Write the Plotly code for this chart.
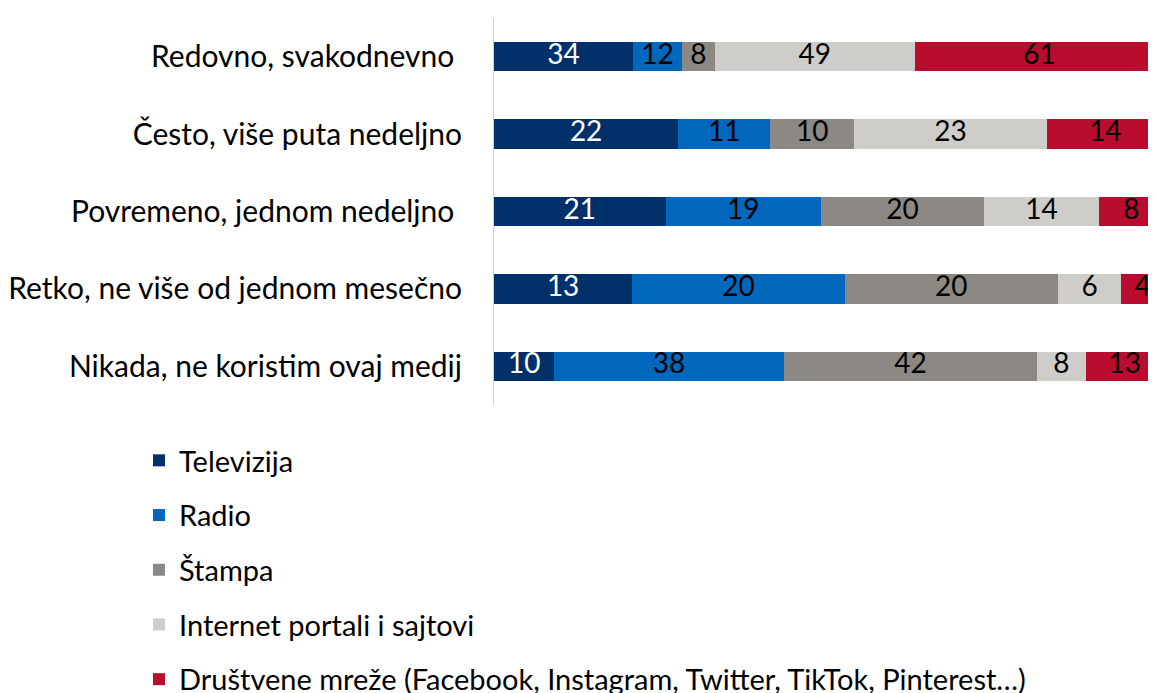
import plotly.graph_objects as go

# categories (frequency of use), top to bottom
categories = [
    "Redovno, svakodnevno\u00a0",
    "Često, više puta nedeljno",
    "Povremeno, jednom nedeljno\u00a0",
    "Retko, ne više od jednom mesečno",
    "Nikada, ne koristim ovaj medij",
]

# series values
televizija = [34, 22, 21, 13, 10]
radio = [12, 11, 19, 20, 38]
stampa = [8, 10, 20, 20, 42]
internet = [49, 23, 14, 6, 8]
drustvene = [61, 14, 8, 4, 13]

series_names = [
    "Televizija",
    "Radio",
    "Štampa",
    "Internet portali i sajtovi",
    "Društvene mreže (Facebook, Instagram, Twitter, TikTok, Pinterest…)",
]
series_values = [televizija, radio, stampa, internet, drustvene]
colors = ["#003069", "#0068bc", "#8c8984", "#cfcdc9", "#ba0c2f"]
text_colors = ["white", "black", "black", "black", "black"]

font_family = "Lato, 'Open Sans', sans-serif"
label_family = "'Liberation Sans Narrow', 'Arial Narrow', Lato, sans-serif"

# each row is shown as 100% (barnorm), labels keep the raw values
totals = [sum(v[r] for v in series_values) for r in range(len(categories))]

fig = go.Figure()
for i in range(len(series_names)):
    fig.add_trace(go.Bar(
        y=categories,
        x=series_values[i],
        name=series_names[i],
        orientation="h",
        marker=dict(color=colors[i], line=dict(width=0)),
        textposition="none",
        legendgroup=str(i),
        hoverinfo="x+name",
    ))

# value labels centred in each segment (bar inside text would be shrunk)
for i in range(len(series_names)):
    mids = []
    for r in range(len(categories)):
        before = sum(series_values[j][r] for j in range(i))
        mids.append((before + series_values[i][r] / 2) / totals[r] * 100)
    fig.add_trace(go.Scatter(
        x=mids,
        y=categories,
        mode="text",
        text=[str(v) for v in series_values[i]],
        textposition="middle center",
        textfont=dict(color=text_colors[i], size=28, family=label_family),
        cliponaxis=False,
        showlegend=False,
        hoverinfo="skip",
    ))

fig.update_layout(
    barmode="stack",
    barnorm="percent",
    bargap=0.62,
    width=1156,
    height=693,
    margin=dict(l=486, r=0, t=10, b=296, autoexpand=False),
    plot_bgcolor="white",
    paper_bgcolor="white",
    font=dict(family=font_family, size=30, color="black"),
    xaxis=dict(
        range=[0, 100],
        showticklabels=False,
        showline=False,
        ticks="",
        showgrid=False,
        zeroline=False,
    ),
    yaxis=dict(
        autorange="reversed",
        showline=True,
        linecolor="#d0d0d0",
        linewidth=1,
        ticks="",
        showgrid=False,
        ticklabelstandoff=25,
        tickfont=dict(size=30, color="black"),
    ),
    legend=dict(
        orientation="v",
        xref="container",
        yref="container",
        x=131 / 1156,
        y=1 - 427 / 693,
        xanchor="left",
        yanchor="top",
        font=dict(size=29, color="black"),
        tracegroupgap=14,
        bgcolor="rgba(0,0,0,0)",
    ),
    showlegend=True,
)

fig.write_html("out.html")
